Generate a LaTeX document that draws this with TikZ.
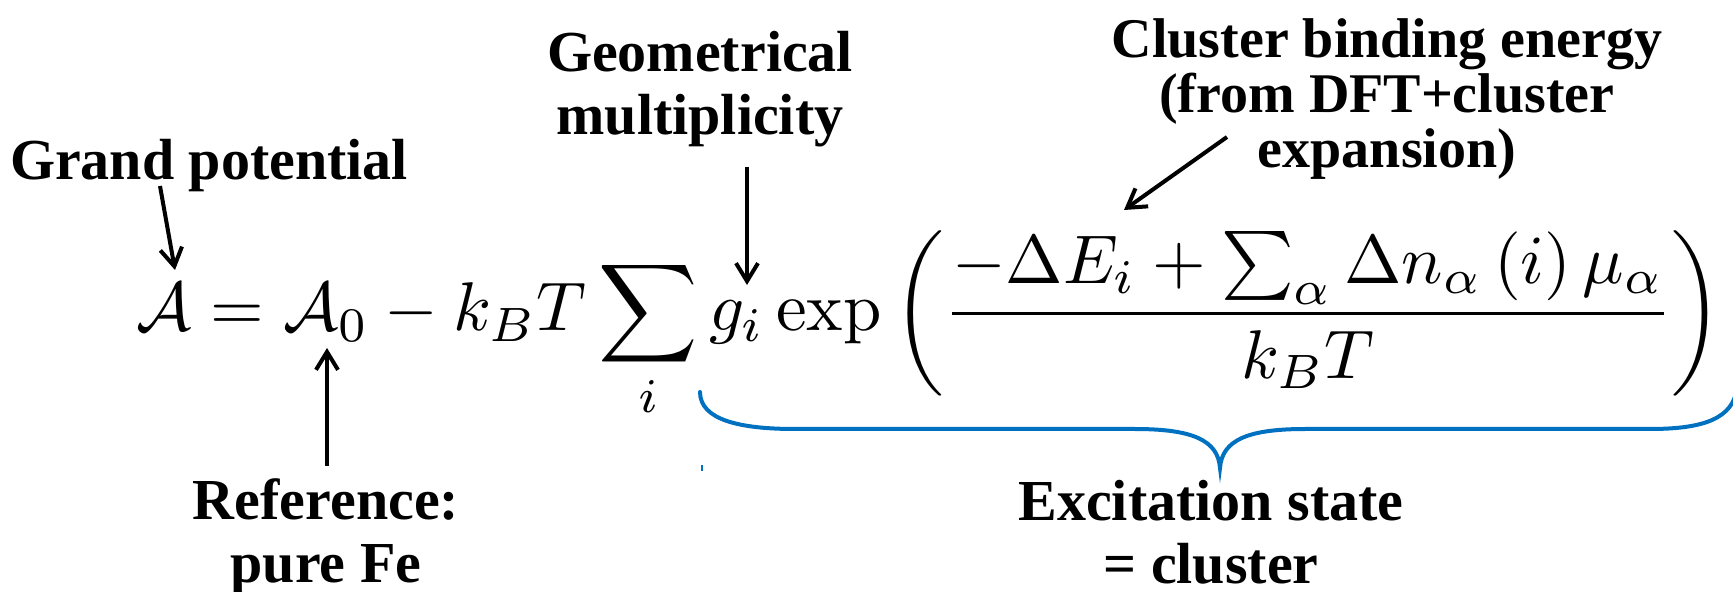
\documentclass[tikz,border=0pt]{standalone}
\usepackage[no-math]{fontspec}
\usepackage{graphicx}
\usetikzlibrary{arrows.meta}
\newfontfamily\labfont{Liberation Serif}
\definecolor{braceblue}{RGB}{0,112,192}
\begin{document}
\begin{tikzpicture}[x=0.5pt,y=-0.5pt,
  lab/.style={font=\labfont\bfseries\fontsize{29}{31.5}\selectfont, inner sep=0pt, anchor=base, align=center},
  labtight/.style={lab, font=\labfont\bfseries\fontsize{28}{27.5}\selectfont},
  arr/.style={line width=2pt, -{Straight Barb[length=9pt,width=11pt]}},
  bracepath/.style={draw=braceblue, line width=2pt, line cap=round}
]
\useasboundingbox (0,0) rectangle (1733,592);

% formula
\node[anchor=base west, inner sep=0pt] (eq) at (136,331)
  {\resizebox{793pt}{!}{$\displaystyle \mathcal{A} = \mathcal{A}_0 - k_B T \sum_i g_i \exp\left(\frac{-\Delta E_i + \sum_\alpha \Delta n_\alpha\,(i)\,\mu_\alpha}{k_B T}\right)$}};

% labels (base anchor = baseline of the last line)
\node[lab] (gp) at (209,180)  {Grand potential};
\node[lab] (gm) at (700,135)  {Geometrical\\multiplicity};
\node[labtight] (cb) at (1387,168) {Cluster binding energy\\(from DFT+cluster\\expansion)};
\node[lab] (rf) at (326,582)  {Reference:\\pure Fe};
\node[lab] (ex) at (1211,583) {Excitation state\\= cluster};

% arrow end points
\coordinate (gpS)   at (160,186);
\coordinate (aTip)  at (175,270);
\coordinate (gmS)   at (747,167);
\coordinate (gTip)  at (747,285);
\coordinate (rfS)   at (327,466);
\coordinate (a0Tip) at (327,348);
\coordinate (cbS)   at (1227,137);
\coordinate (eTip)  at (1124,210);

\draw[arr] (gpS) -- (aTip);
\draw[arr] (gmS) -- (gTip);
\draw[arr] (rfS) -- (a0Tip);
\draw[arr] (cbS) -- (eTip);

% brace
\coordinate (bL) at (700,392);
\coordinate (bM) at (1220,468);
\coordinate (bR) at (1737,388);
\draw[bracepath] (bL) .. controls (700,420) and (740,429) .. (795,429)
  -- (1135,429) .. controls (1192,429) and (1218,440) .. (bM)
  .. controls (1222,440) and (1248,429) .. (1305,429)
  -- (1650,429) .. controls (1705,429) and (1733,418) .. (bR);
\coordinate (tk1) at (702,465);
\coordinate (tk2) at (702,471);
\draw[draw=braceblue, line width=0.8pt] (tk1) -- (tk2);
\end{tikzpicture}
\end{document}
